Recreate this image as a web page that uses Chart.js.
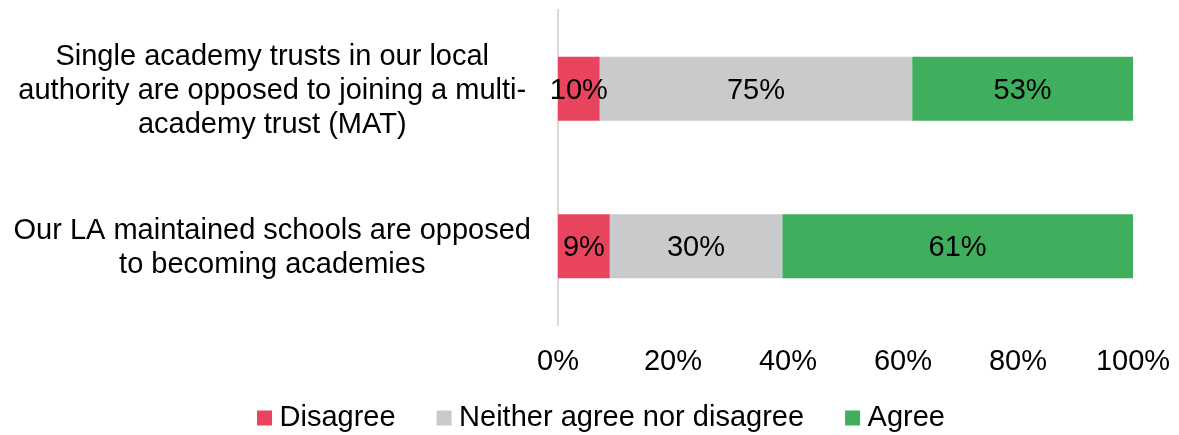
<!DOCTYPE html>
<html>
<head>
<meta charset="utf-8">
<script src="https://cdn.jsdelivr.net/npm/chart.js@4/dist/chart.umd.min.js"></script>
<style>
  html, body { margin: 0; padding: 0; background: #ffffff; }
  #wrap { width: 1179px; height: 435px; }
</style>
</head>
<body>
<div id="wrap"><canvas id="c" width="1179" height="435"></canvas></div>
<script>
// ---- Data ----
const categories = [
  ["Single academy trusts in our local", "authority are opposed to joining a multi-", "academy trust (MAT)"],
  ["Our LA maintained schools are opposed", "to becoming academies"]
];
const seriesNames = ["Disagree", "Neither agree nor disagree", "Agree"];
const disagree = [10, 9];
const neither = [75, 30];
const agree = [53, 61];
const xTicks = [0, 20, 40, 60, 80, 100];

const seriesColors = ["#E9445D", "#C9CACC", "#3FAF5E"];
const FONT = "'Liberation Sans', Arial, sans-serif";

// 100% stacked: each row is shown as shares of its row total
const raw = [disagree, neither, agree];
const rowTotals = categories.map((_, i) => raw.reduce((s, arr) => s + arr[i], 0));

const datasets = raw.map((arr, k) => ({
  label: seriesNames[k],
  data: arr.map((v, i) => v / rowTotals[i] * 100),
  rawValues: arr,
  backgroundColor: seriesColors[k],
  borderWidth: 0,
  categoryPercentage: 1.0,
  barPercentage: 0.406
}));

const valueLabels = {
  id: 'valueLabels',
  afterDatasetsDraw(chart) {
    const ctx = chart.ctx;
    ctx.save();
    ctx.font = "29px " + FONT;
    ctx.fillStyle = "#000000";
    ctx.textAlign = "center";
    ctx.textBaseline = "middle";
    chart.data.datasets.forEach((ds, di) => {
      const meta = chart.getDatasetMeta(di);
      meta.data.forEach((bar, i) => {
        const p = bar.getProps(['x', 'y', 'base'], true);
        const cx = (p.x + p.base) / 2;
        ctx.fillText(ds.rawValues[i] + "%", cx, p.y + 2);
      });
    });
    ctx.restore();
  }
};

// place the legend block where the reference has it (it overlaps the axis box)
const LEGEND_PAD = 48;
const legendPlacement = {
  id: 'legendPlacement',
  afterLayout(chart) {
    const lg = chart.legend;
    if (!lg) return;
    const dx = 38;
    const itemH = 29;
    lg.left += dx; lg.right += dx;
    lg.top = 418 - itemH / 2 - LEGEND_PAD;
    lg.height = itemH + LEGEND_PAD + 10;
    lg.bottom = lg.top + lg.height;
  }
};

new Chart(document.getElementById('c'), {
  type: 'bar',
  data: { labels: categories, datasets },
  options: {
    indexAxis: 'y',
    responsive: false,
    animation: false,
    devicePixelRatio: 1,
    layout: { padding: { top: 10, right: 46, left: 0, bottom: 0 } },
    scales: {
      x: {
        stacked: true,
        min: 0, max: 100,
        afterBuildTicks(scale) { scale.ticks = xTicks.map(v => ({ value: v })); },
        grid: { display: false, drawTicks: false },
        border: { display: false },
        ticks: {
          color: "#000000",
          font: { family: FONT, size: 29 },
          padding: 20,
          callback: v => v + "%"
        },
        afterFit(scale) { scale.height = 56; scale.paddingLeft = 0; scale.paddingRight = 0; }
      },
      y: {
        stacked: true,
        grid: { display: false, drawTicks: false },
        border: { display: true, color: "#D9D9D9", width: 2 },
        ticks: {
          color: "#000000",
          font: { family: FONT, size: 29, lineHeight: 1.17 },
          crossAlign: 'center',
          padding: 27,
          labelOffset: 2
        },
        afterFit(scale) { scale.width = 558; scale.paddingTop = 0; scale.paddingBottom = 0; }
      }
    },
    plugins: {
      legend: {
        position: 'bottom',
        maxHeight: 54,
        labels: {
          usePointStyle: true,
          pointStyle: 'rect',
          boxWidth: 1,
          boxHeight: 15,
          padding: LEGEND_PAD,
          color: "#000000",
          font: { family: FONT, size: 29 }
        }
      },
      tooltip: { enabled: false }
    }
  },
  plugins: [valueLabels, legendPlacement]
});
</script>
</body>
</html>
